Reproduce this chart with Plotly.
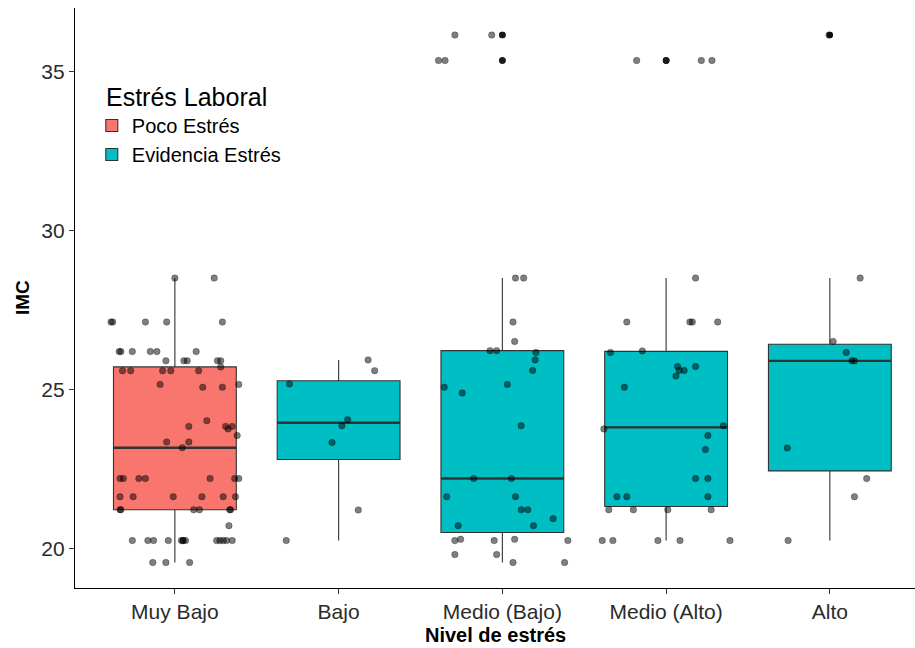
import numpy as np
import plotly.graph_objects as go

# Stress level categories (x axis) and their group in the legend
categories = ["Muy Bajo", "Bajo", "Medio (Bajo)", "Medio (Alto)", "Alto"]
groups = ["Poco Estrés", "Evidencia Estrés", "Evidencia Estrés", "Evidencia Estrés", "Evidencia Estrés"]
group_colors = {"Poco Estrés": "#F8766D", "Evidencia Estrés": "#00BFC4"}

# IMC observations per stress level
imc_muy_bajo = [28.51, 28.51,
                27.13, 27.13, 27.13, 27.13, 27.13,
                26.20, 26.20, 26.20, 26.20, 26.20, 26.20,
                25.91, 25.91, 25.91, 25.91, 25.91,
                25.72,
                25.60, 25.60, 25.60, 25.60, 25.60,
                25.17, 25.17, 25.08, 25.08, 24.03,
                23.85, 23.85, 23.85, 23.77, 23.56,
                23.36, 23.36, 23.18,
                22.21, 22.21, 22.21, 22.21, 22.21, 22.21, 22.21,
                21.64, 21.64, 21.64, 21.64, 21.64, 21.64,
                21.23, 21.23, 21.23, 21.23, 21.23, 21.23,
                20.73,
                20.26, 20.26, 20.26, 20.26, 20.26, 20.26, 20.26, 20.26, 20.26, 20.26, 20.26, 20.26, 20.26,
                19.57, 19.57, 19.57]
imc_bajo = [25.94, 25.60, 25.18, 24.06, 23.87, 23.34, 21.22, 20.26]
imc_medio_bajo = [36.15, 36.15, 35.35, 35.35, 28.51, 28.51, 27.13, 26.52,
                  26.23, 26.23, 26.17, 25.94, 25.61, 25.17, 25.08, 24.90, 23.87,
                  22.21, 22.21, 21.64, 21.64, 21.23, 21.23, 20.95, 20.73, 20.73,
                  20.26, 20.26, 20.26, 20.30, 20.30, 19.82, 19.82, 19.57, 19.57]
imc_medio_alto = [35.35, 35.35, 35.35, 28.51, 27.13, 27.13, 27.13, 27.13,
                  26.22, 26.17, 25.73, 25.73, 25.61, 25.61, 25.43, 25.08,
                  23.87, 23.77, 23.56, 23.12, 22.21, 22.21,
                  21.64, 21.64, 21.64, 21.23, 21.23, 21.23, 21.23,
                  20.26, 20.26, 20.26, 20.26, 20.26]
imc_alto = [36.15, 28.51, 26.52, 26.17, 25.91, 25.91, 23.17, 22.21, 21.64, 20.26]

# Horizontal jitter of each observation (fraction of a category slot)
jit_muy_bajo = [0.00, 0.24,
                -0.39, -0.38, -0.18, -0.05, 0.29,
                -0.34, -0.33, -0.26, -0.15, -0.11, 0.13,
                -0.055, 0.055, 0.075, 0.26, 0.28,
                0.28,
                -0.32, -0.27, -0.075, -0.025, 0.145,
                -0.09, 0.39, 0.17, 0.29, 0.195,
                0.085, 0.31, 0.35, 0.325, 0.38,
                -0.05, 0.085, 0.045,
                -0.335, -0.315, -0.22, -0.18, 0.215, 0.365, 0.39,
                -0.335, -0.255, -0.01, 0.165, 0.295, 0.37,
                -0.335, -0.33, 0.115, 0.15, 0.335, 0.34,
                0.33,
                -0.26, -0.165, -0.13, -0.04, 0.04, 0.05, 0.05, 0.065, 0.255, 0.275, 0.295, 0.315, 0.35,
                -0.135, -0.055, 0.09]
jit_bajo = [0.18, 0.22, -0.30, 0.055, 0.02, -0.04, 0.12, -0.32]
jit_medio_bajo = [-0.29, -0.065, -0.39, -0.35, 0.08, 0.13, 0.065, 0.075,
                  -0.075, -0.035, 0.205, 0.2, 0.185, 0.03, -0.355, -0.245, 0.115,
                  -0.175, 0.055, -0.34, 0.08, 0.115, 0.155, 0.31, -0.27, 0.19,
                  -0.29, -0.05, 0.4, -0.255, 0.075, -0.29, -0.035, 0.065, 0.38]
jit_medio_alto = [-0.18, 0.215, 0.28, 0.18, -0.24, 0.145, 0.16, 0.315,
                  -0.145, -0.34, 0.07, 0.18, 0.08, 0.11, 0.06, -0.255,
                  0.35, -0.38, 0.255, 0.24, 0.18, 0.255,
                  -0.3, -0.24, 0.255, -0.35, -0.2, 0.01, 0.275,
                  -0.39, -0.325, -0.05, 0.085, 0.39]
jit_alto = [-0.005, 0.185, 0.02, 0.1, 0.135, 0.15, -0.26, 0.225, 0.15, -0.255]

imc_values = [imc_muy_bajo, imc_bajo, imc_medio_bajo, imc_medio_alto, imc_alto]
jitters = [jit_muy_bajo, jit_bajo, jit_medio_bajo, jit_medio_alto, jit_alto]

y_ticks = [20, 25, 30, 35]

BOX_W = 0.75
EDGE = "#333333"
FONT = "Liberation Sans, Arial, sans-serif"


def box_stats(vals):
    v = np.asarray(vals, dtype=float)
    q1, med, q3 = np.percentile(v, [25, 50, 75])
    iqr = q3 - q1
    lo = v[v >= q1 - 1.5 * iqr].min()
    hi = v[v <= q3 + 1.5 * iqr].max()
    out = v[(v < lo) | (v > hi)]
    return q1, med, q3, lo, hi, out


stats = [box_stats(v) for v in imc_values]
positions = list(range(1, len(categories) + 1))

fig = go.Figure()

# One box trace per legend group
for g in ["Poco Estrés", "Evidencia Estrés"]:
    idx = [i for i, gg in enumerate(groups) if gg == g]
    fig.add_trace(go.Box(
        x=[positions[i] for i in idx],
        q1=[stats[i][0] for i in idx],
        median=[stats[i][1] for i in idx],
        q3=[stats[i][2] for i in idx],
        lowerfence=[stats[i][3] for i in idx],
        upperfence=[stats[i][4] for i in idx],
        name=g,
        width=BOX_W,
        whiskerwidth=0,
        fillcolor=group_colors[g],
        line=dict(color=EDGE, width=1.1),
        boxpoints=False,
        hoverinfo="skip",
    ))

# Outliers drawn at the box centre
ox, oy = [], []
for p, s in zip(positions, stats):
    for v in s[5]:
        ox.append(p)
        oy.append(v)
fig.add_trace(go.Scatter(
    x=ox, y=oy, mode="markers", showlegend=False, hoverinfo="skip",
    marker=dict(color="#1a1a1a", size=6.5, line=dict(width=0)),
))

# Thicker median segments
mx, my = [], []
for p, s in zip(positions, stats):
    mx += [p - BOX_W / 2, p + BOX_W / 2, None]
    my += [s[1], s[1], None]
fig.add_trace(go.Scatter(
    x=mx, y=my, mode="lines", showlegend=False, hoverinfo="skip",
    line=dict(color=EDGE, width=2.4),
))

# Jittered observations
px_, py_ = [], []
for p, vals, jit in zip(positions, imc_values, jitters):
    for v, j in zip(vals, jit):
        px_.append(p + j)
        py_.append(v)
fig.add_trace(go.Scatter(
    x=px_, y=py_, mode="markers", showlegend=False, hoverinfo="skip",
    marker=dict(color="rgba(0,0,0,0.5)", size=6.5,
                line=dict(color="rgba(0,0,0,0.35)", width=0.8)),
))

axis_common = dict(
    showline=True, linecolor="black", linewidth=1.2,
    ticks="outside", ticklen=5, tickwidth=1, tickcolor="#333333",
    showgrid=False, zeroline=False,
    tickfont=dict(family=FONT, size=21, color="#2b2b2b"),
)

fig.update_layout(
    width=915, height=648,
    margin=dict(l=75, r=0, t=8, b=60),
    paper_bgcolor="white", plot_bgcolor="white",
    font=dict(family=FONT, color="black"),
    xaxis=dict(range=[0.39, 5.52], tickvals=positions, ticktext=categories, **axis_common),
    yaxis=dict(range=[18.77, 37.0], tickvals=y_ticks, **axis_common),
    legend=dict(
        font=dict(family=FONT, size=20, color="black"),
        x=0.02, y=(588 - 106) / 580, xanchor="left", yanchor="top",
        bgcolor="rgba(0,0,0,0)", tracegroupgap=0,
    ),
    annotations=[
        dict(text="Estrés Laboral", x=(104 - 75) / 840, y=(588 - 97) / 580,
             xref="paper", yref="paper", xanchor="left", yanchor="middle",
             showarrow=False, font=dict(family=FONT, size=25, color="black")),
        dict(text="<b>IMC</b>", x=-53 / 840, y=0.5, xref="paper", yref="paper",
             xanchor="center", yanchor="middle",
             textangle=-90, showarrow=False, font=dict(family=FONT, size=19, color="black")),
        dict(text="<b>Nivel de estrés</b>", x=0.5, y=-47 / 580, xref="paper", yref="paper",
             xanchor="center", yanchor="middle",
             showarrow=False, font=dict(family=FONT, size=20, color="black")),
    ],
)

fig.write_html("out.html")
